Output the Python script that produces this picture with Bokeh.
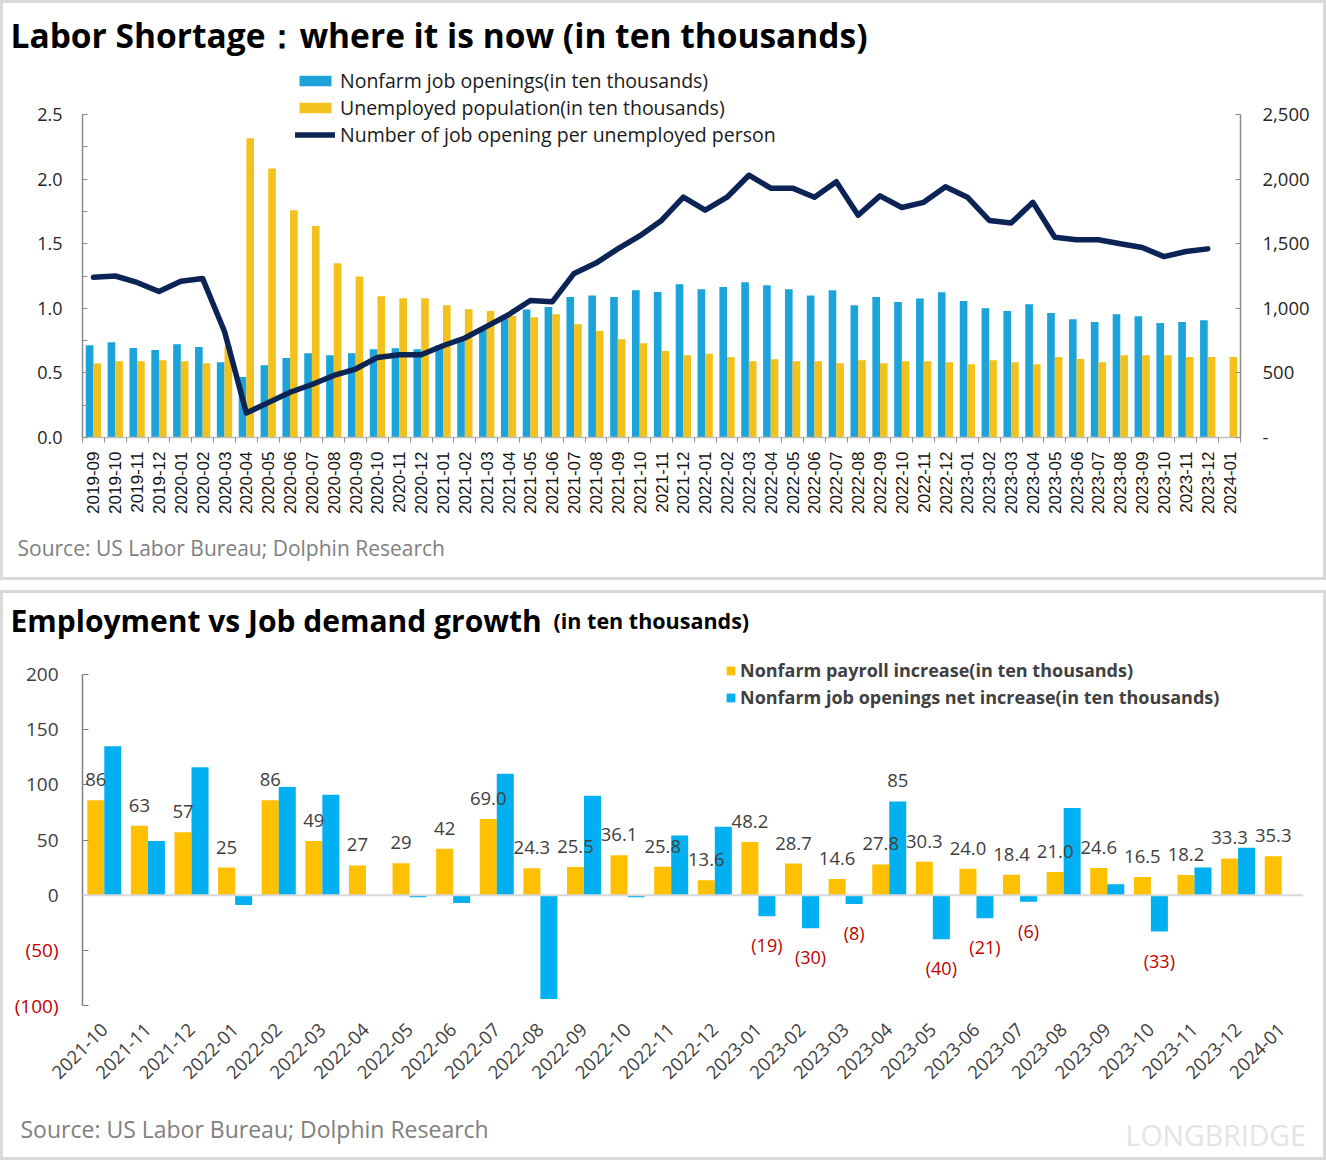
import math
from bokeh.plotting import figure
from bokeh.models import (Range1d, LinearAxis, FixedTicker, NumeralTickFormatter, Legend,
                          LegendItem, Label, LabelSet, ColumnDataSource, Span)
from bokeh.layouts import column
from bokeh.transform import dodge
from bokeh.core.properties import value
from bokeh.embed import file_html
from bokeh.resources import INLINE

FONT = "Open Sans"
NAN = float("nan")
W = 1326

# ---------------- data: top chart ----------------
months_top = ["2019-09", "2019-10", "2019-11", "2019-12",
              "2020-01", "2020-02", "2020-03", "2020-04", "2020-05", "2020-06",
              "2020-07", "2020-08", "2020-09", "2020-10", "2020-11", "2020-12",
              "2021-01", "2021-02", "2021-03", "2021-04", "2021-05", "2021-06",
              "2021-07", "2021-08", "2021-09", "2021-10", "2021-11", "2021-12",
              "2022-01", "2022-02", "2022-03", "2022-04", "2022-05", "2022-06",
              "2022-07", "2022-08", "2022-09", "2022-10", "2022-11", "2022-12",
              "2023-01", "2023-02", "2023-03", "2023-04", "2023-05", "2023-06",
              "2023-07", "2023-08", "2023-09", "2023-10", "2023-11", "2023-12",
              "2024-01"]
# Nonfarm job openings (ten thousands)
openings = [714, 737, 693, 678, 722, 701, 582, 469, 559, 616, 652, 637, 652, 683, 691, 683,
            712, 767, 840, 920, 990, 1010, 1088, 1100, 1088, 1139, 1126, 1186,
            1147, 1165, 1201, 1178, 1147, 1100, 1139, 1023, 1088, 1049, 1075, 1124,
            1057, 1000, 979, 1031, 964, 915, 894, 954, 938, 887, 894, 907, NAN]
# Unemployed population (ten thousands)
unemployed = [572, 590, 590, 598, 590, 575, 710, 2317, 2082, 1758, 1637, 1348, 1247, 1093, 1077, 1077,
              1023, 992, 979, 940, 930, 954, 876, 825, 760, 729, 670, 637,
              649, 624, 590, 606, 590, 590, 575, 598, 575, 590, 590, 582,
              567, 598, 582, 567, 624, 608, 582, 637, 637, 637, 624, 624, 624]
# Job openings per unemployed person (2019-09 .. 2023-12)
ratio = [1.24, 1.25, 1.20, 1.13, 1.21, 1.23, 0.82, 0.19, 0.27, 0.35, 0.41, 0.48, 0.53, 0.62, 0.64, 0.64,
         0.71, 0.77, 0.86, 0.95, 1.06, 1.05, 1.27, 1.35, 1.46, 1.56, 1.68, 1.86,
         1.76, 1.86, 2.03, 1.93, 1.93, 1.86, 1.98, 1.72, 1.87, 1.78, 1.82, 1.94,
         1.86, 1.68, 1.66, 1.82, 1.55, 1.53, 1.53, 1.50, 1.47, 1.40, 1.44, 1.46]
left_ticks = [0.0, 0.5, 1.0, 1.5, 2.0, 2.5]
left_minor = [0.25, 0.75, 1.25, 1.75, 2.25]
right_ticks = [0, 500, 1000, 1500, 2000, 2500]

# ---------------- data: bottom chart ----------------
months_bot = ["2021-10", "2021-11", "2021-12", "2022-01", "2022-02", "2022-03", "2022-04",
              "2022-05", "2022-06", "2022-07", "2022-08", "2022-09", "2022-10", "2022-11",
              "2022-12", "2023-01", "2023-02", "2023-03", "2023-04", "2023-05", "2023-06",
              "2023-07", "2023-08", "2023-09", "2023-10", "2023-11", "2023-12", "2024-01"]
payroll_text = ["86", "63", "57", "25", "86", "49", "27", "29", "42", "69.0", "24.3", "25.5",
                "36.1", "25.8", "13.6", "48.2", "28.7", "14.6", "27.8", "30.3", "24.0", "18.4",
                "21.0", "24.6", "16.5", "18.2", "33.3", "35.3"]
openings_net = [135, 49, 116, -9, 98, 91, NAN, -2, -7, 110, -94, 90, -2, 54,
                62, -19, -30, -8, 85, -40, -21, -6, 79, 10, -33, 25, 43, NAN]
labeled_net_months = ["2023-01", "2023-02", "2023-03", "2023-04", "2023-05",
                      "2023-06", "2023-07", "2023-10"]
bot_pos_ticks = [0, 50, 100, 150, 200]
bot_neg_ticks = [-100, -50]

# ---------------- colours ----------------
BLUE1, YEL1, NAVY = "#1CA3DA", "#F3C11D", "#0C2356"
YEL2, BLUE2, RED = "#FFC000", "#00B0F0", "#C00000"
GRAY_TXT = "#404040"
PANEL_STYLE = {"outline": "2px solid #D9D9D9", "outline-offset": "-3px",
               "box-shadow": "inset 0 0 0 2px #D9D9D9", "background-color": "white"}


def no_align(fig):
    try:
        fig.frame_align = False
    except Exception:
        pass


def strip(h):
    s = figure(width=W, height=h, x_range=Range1d(0, W), y_range=Range1d(0, h),
               x_axis_type=None, y_axis_type=None, min_border=0, title_location=None,
               output_backend="svg", toolbar_location=None, outline_line_color=None,
               background_fill_alpha=0, border_fill_alpha=0)
    s.xgrid.visible = False
    s.ygrid.visible = False
    no_align(s)
    return s


# =============== top chart ===============
stripA = strip(60)
stripA.add_layout(Label(x=10, y=26, text="Labor Shortage：where it is now (in ten thousands)",
                        text_font=FONT, text_font_style="bold", text_font_size="33.5px",
                        text_color="#000000", text_baseline="alphabetic"))

n1 = len(months_top)
PX1 = 323 / 2.5            # pixels per unit on the left axis
top1 = 377 / PX1           # frame reaches above the 2.5 tick (room for legend)
src1 = ColumnDataSource(dict(x=list(range(n1)), openings=openings, unemployed=unemployed))
p1 = figure(width=W, height=468, x_range=Range1d(-0.5, n1 - 0.5), y_range=Range1d(0, top1),
            output_backend="svg", toolbar_location=None, title_location=None,
            min_border_left=82, min_border_right=86, min_border_top=0, min_border_bottom=91,
            outline_line_color=None, background_fill_alpha=0, border_fill_alpha=0)
no_align(p1)
p1.extra_y_ranges = {"right": Range1d(0, top1 * 1000)}
p1.xgrid.visible = False
p1.ygrid.visible = False

b_open = p1.vbar(x=dodge("x", -0.175), top="openings", width=0.35, source=src1,
                 y_range_name="right", fill_color=BLUE1, line_color=None)
b_unemp = p1.vbar(x=dodge("x", 0.175), top="unemployed", width=0.35, source=src1,
                  y_range_name="right", fill_color=YEL1, line_color=None)
l_ratio = p1.line(x=list(range(len(ratio))), y=ratio, line_width=5.5, line_color=NAVY,
                  line_join="round", line_cap="round")

ya = p1.yaxis[0]
ya.ticker = FixedTicker(ticks=left_ticks, minor_ticks=left_minor)
ya.bounds = (0, 2.5)
ya.formatter = NumeralTickFormatter(format="0.0")
ya.axis_line_color = "#8C8C8C"
ya.axis_line_width = 1.5
ya.major_tick_in, ya.major_tick_out = 5, 0
ya.minor_tick_in, ya.minor_tick_out = 5, 0
ya.major_tick_line_color = "#8C8C8C"
ya.minor_tick_line_color = "#8C8C8C"
ya.major_label_standoff = 20
ya.major_label_text_font = FONT
ya.major_label_text_font_size = "18px"
ya.major_label_text_color = "#262626"

ra = LinearAxis(y_range_name="right", ticker=FixedTicker(ticks=right_ticks),
                formatter=NumeralTickFormatter(format="0,0"), major_label_overrides={0: "-"})
ra.bounds = (0, 2500)
ra.axis_line_color = "#8C8C8C"
ra.axis_line_width = 1.5
ra.major_tick_in, ra.major_tick_out = 5, 0
ra.minor_tick_line_color = None
ra.minor_tick_out = 0
ra.major_tick_line_color = "#8C8C8C"
ra.major_label_standoff = 22
ra.major_label_text_font = FONT
ra.major_label_text_font_size = "18.5px"
ra.major_label_text_color = "#262626"
p1.add_layout(ra, "right")

xa = p1.xaxis[0]
xa.ticker = FixedTicker(ticks=list(range(n1)), minor_ticks=[i - 0.5 for i in range(n1 + 1)])
xa.major_label_overrides = {i: m for i, m in enumerate(months_top)}
xa.major_label_orientation = math.pi / 2
xa.axis_line_color = "#BFBFBF"
xa.axis_line_width = 1.5
xa.major_tick_line_color = None
xa.minor_tick_in, xa.minor_tick_out = 0, 5
xa.minor_tick_line_color = "#8C8C8C"
xa.major_label_standoff = 8
xa.major_label_text_font = "Liberation Sans"
xa.major_label_text_font_size = "17px"
xa.major_label_text_color = "#111111"

leg1 = Legend(items=[
    LegendItem(label="Nonfarm job openings(in ten thousands)", renderers=[b_open]),
    LegendItem(label="Unemployed population(in ten thousands)", renderers=[b_unemp]),
    LegendItem(label="Number of job opening per unemployed person", renderers=[l_ratio]),
], location=(213, 289), orientation="vertical", padding=0, margin=0, spacing=0,
    glyph_width=40, glyph_height=13, label_standoff=5,
    label_text_font=FONT, label_text_font_size="19.5px", label_text_color="#1A1A1A",
    border_line_alpha=0, background_fill_alpha=0)
p1.add_layout(leg1)

stripS1 = strip(52)
stripS1.add_layout(Label(x=17, y=33, text="Source: US Labor Bureau; Dolphin Research",
                         text_font=FONT, text_font_size="21px", text_color="#808080",
                         text_baseline="alphabetic"))

panel1 = column(stripA, p1, stripS1, spacing=0, styles=PANEL_STYLE)

# =============== bottom chart ===============
stripB = strip(65)
stripB.add_layout(Label(x=10, y=35, text="Employment vs Job demand growth",
                        text_font=FONT, text_font_style="bold", text_font_size="30px",
                        text_color="#000000", text_baseline="alphabetic"))
stripB.add_layout(Label(x=553, y=35, text="(in ten thousands)",
                        text_font=FONT, text_font_style="bold", text_font_size="21.5px",
                        text_color="#000000", text_baseline="alphabetic"))

n2 = len(months_bot)
PX2 = 331 / 300
top2 = 200 + 19 / PX2
payroll = [float(s) for s in payroll_text]
src2 = ColumnDataSource(dict(x=list(range(n2)), payroll=payroll, net=openings_net,
                             ptxt=payroll_text))
p2 = figure(width=W, height=445, x_range=Range1d(-0.5, n2 - 0.5), y_range=Range1d(-100, top2),
            output_backend="svg", toolbar_location=None, title_location=None,
            min_border_left=82, min_border_right=23, min_border_top=0, min_border_bottom=95,
            outline_line_color=None, background_fill_alpha=0, border_fill_alpha=0)
no_align(p2)
p2.xgrid.visible = False
p2.ygrid.visible = False

p2.add_layout(Span(location=0, dimension="width", line_color="#D9D9D9", line_width=2))
b_pay = p2.vbar(x=dodge("x", -0.195), top="payroll", width=0.39, source=src2,
                fill_color=YEL2, line_color=None)
b_net = p2.vbar(x=dodge("x", 0.195), top="net", width=0.39, source=src2,
                fill_color=BLUE2, line_color=None)

p2.add_layout(LabelSet(x=dodge("x", -0.195), y="payroll", text="ptxt", source=src2,
                       y_offset=14, text_align="center", text_baseline="bottom",
                       text_font=value(FONT), text_font_size="18.5px", text_color=GRAY_TXT))

neg_idx = [months_bot.index(m) for m in labeled_net_months if openings_net[months_bot.index(m)] < 0]
pos_idx = [months_bot.index(m) for m in labeled_net_months if openings_net[months_bot.index(m)] > 0]
src_neg = ColumnDataSource(dict(x=neg_idx, y=[openings_net[i] for i in neg_idx],
                                t=["(%d)" % abs(openings_net[i]) for i in neg_idx]))
src_pos = ColumnDataSource(dict(x=pos_idx, y=[openings_net[i] for i in pos_idx],
                                t=["%d" % openings_net[i] for i in pos_idx]))
p2.add_layout(LabelSet(x=dodge("x", 0.195), y="y", text="t", source=src_neg,
                       y_offset=-17, text_align="center", text_baseline="top",
                       text_font=value(FONT), text_font_size="18px", text_color=RED))
p2.add_layout(LabelSet(x=dodge("x", 0.195), y="y", text="t", source=src_pos,
                       y_offset=14, text_align="center", text_baseline="bottom",
                       text_font=value(FONT), text_font_size="18.5px", text_color=GRAY_TXT))

ya2 = p2.yaxis[0]
ya2.ticker = FixedTicker(ticks=bot_neg_ticks + bot_pos_ticks)
ya2.bounds = (-100, 200)
ya2.major_label_overrides = {t: "" for t in bot_neg_ticks}
ya2.axis_line_color = "#7F7F7F"
ya2.axis_line_width = 1.5
ya2.major_tick_in, ya2.major_tick_out = 6, 0
ya2.minor_tick_out = 0
ya2.major_tick_line_color = "#7F7F7F"
ya2.minor_tick_line_color = None
ya2.major_label_standoff = 24
ya2.major_label_text_font = FONT
ya2.major_label_text_font_size = "19px"
ya2.major_label_text_color = GRAY_TXT

# second left axis: the negative tick labels, shown in red, shifted into the same column
ya_neg = LinearAxis(ticker=FixedTicker(ticks=bot_neg_ticks),
                    major_label_overrides={t: "(%d)" % abs(t) for t in bot_neg_ticks})
ya_neg.axis_line_color = None
ya_neg.major_tick_line_color = None
ya_neg.minor_tick_line_color = None
ya_neg.major_tick_in = ya_neg.major_tick_out = 0
ya_neg.minor_tick_in = ya_neg.minor_tick_out = 0
ya_neg.major_label_standoff = -36
ya_neg.major_label_text_font = FONT
ya_neg.major_label_text_font_size = "19px"
ya_neg.major_label_text_color = RED
p2.add_layout(ya_neg, "left")

xa2 = p2.xaxis[0]
xa2.ticker = FixedTicker(ticks=list(range(n2)))
xa2.major_label_overrides = {i: m for i, m in enumerate(months_bot)}
xa2.major_label_orientation = math.pi / 4
xa2.axis_line_color = None
xa2.major_tick_line_color = None
xa2.minor_tick_line_color = None
xa2.major_label_standoff = 15
xa2.major_label_text_font = FONT
xa2.major_label_text_font_size = "18.5px"
xa2.major_label_text_color = GRAY_TXT

leg2 = Legend(items=[
    LegendItem(label="Nonfarm payroll increase(in ten thousands)", renderers=[b_pay]),
    LegendItem(label="Nonfarm job openings net increase(in ten thousands)", renderers=[b_net]),
], location=(643, 296), orientation="vertical", padding=0, margin=0, spacing=3,
    glyph_width=11, glyph_height=11, label_standoff=4,
    label_text_font=FONT, label_text_font_style="bold", label_text_font_size="18px",
    label_text_color=GRAY_TXT, border_line_alpha=0, background_fill_alpha=0)
p2.add_layout(leg2)

stripC = strip(60)
stripC.add_layout(Label(x=20, y=32, text="Source: US Labor Bureau; Dolphin Research",
                        text_font=FONT, text_font_size="23px", text_color="#808080",
                        text_baseline="alphabetic"))
stripC.add_layout(Label(x=1125, y=26, text="LONGBRIDGE", text_font=FONT,
                        text_font_size="28.5px", text_color="#E4E4E4",
                        text_baseline="alphabetic"))

panel2 = column(stripB, p2, stripC, spacing=0, styles=PANEL_STYLE)

layout = column(panel1, panel2, spacing=10)
open("out.html", "w").write(file_html(layout, INLINE))
